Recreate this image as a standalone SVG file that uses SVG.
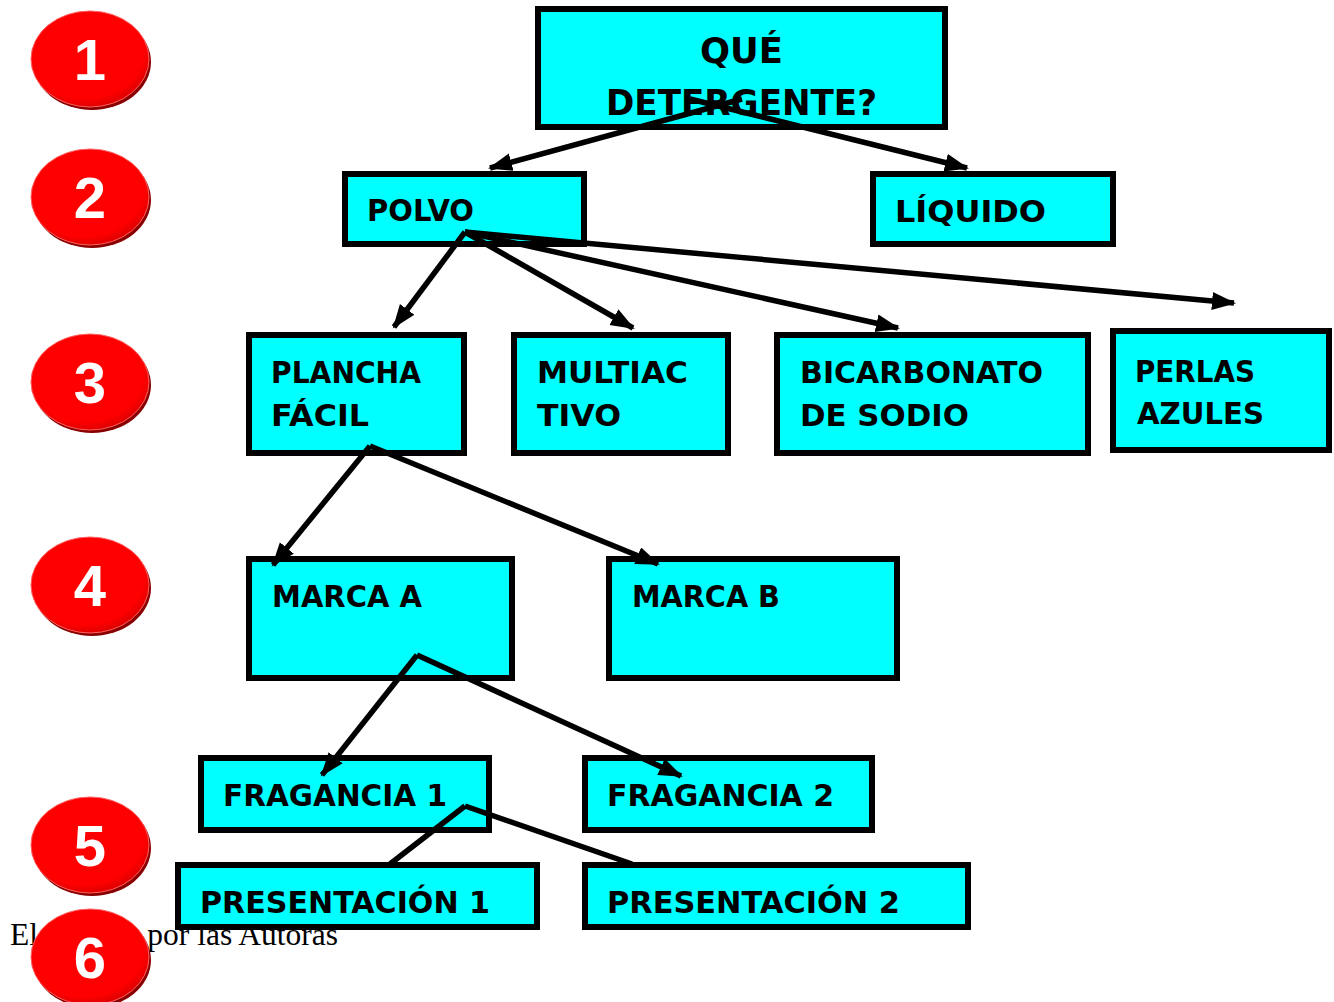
<svg xmlns="http://www.w3.org/2000/svg" width="1334" height="1002" viewBox="0 0 1334 1002">
<style>
.box{fill:#00ffff;stroke:#000;stroke-width:6}
.t{font-family:"Comic Sans MS","DejaVu Sans",sans-serif;font-weight:bold;font-size:30px;fill:#000}
.tq{font-family:"Comic Sans MS","DejaVu Sans",sans-serif;font-weight:bold;font-size:35px;fill:#000}
.num{font-family:"Liberation Sans",Arial,sans-serif;font-weight:bold;font-size:58px;fill:#fff;text-anchor:middle}
.c{stroke:#000;stroke-width:5.5;fill:none}
.foot{font-family:"Liberation Serif","Times New Roman",serif;font-size:31.5px;fill:#000}
</style>
<defs>
<marker id="ah" markerUnits="userSpaceOnUse" markerWidth="26" markerHeight="20" refX="22" refY="9" orient="auto">
<path d="M0,0 L24,9 L0,18 Z" fill="#000"/>
</marker>
<radialGradient id="rg" cx="0.45" cy="0.4" r="0.6">
<stop offset="0" stop-color="#ff0000"/>
<stop offset="0.85" stop-color="#ff0000"/>
<stop offset="1" stop-color="#e00000"/>
</radialGradient>
</defs>

<text class="foot" x="10" y="945">Elaborado por las Autoras</text>

<g id="levels">
<g id="level1"><ellipse cx="92" cy="62" rx="59" ry="48" fill="#8a0000"/><ellipse cx="90" cy="59" rx="59" ry="48" fill="url(#rg)" stroke="#ff6060" stroke-width="1"/><text class="num" x="90" y="80">1</text></g>
<g id="level2"><ellipse cx="92" cy="200" rx="59" ry="48" fill="#8a0000"/><ellipse cx="90" cy="197" rx="59" ry="48" fill="url(#rg)" stroke="#ff6060" stroke-width="1"/><text class="num" x="90" y="218">2</text></g>
<g id="level3"><ellipse cx="92" cy="385" rx="59" ry="48" fill="#8a0000"/><ellipse cx="90" cy="382" rx="59" ry="48" fill="url(#rg)" stroke="#ff6060" stroke-width="1"/><text class="num" x="90" y="403">3</text></g>
<g id="level4"><ellipse cx="92" cy="588" rx="59" ry="48" fill="#8a0000"/><ellipse cx="90" cy="585" rx="59" ry="48" fill="url(#rg)" stroke="#ff6060" stroke-width="1"/><text class="num" x="90" y="606">4</text></g>
<g id="level5"><ellipse cx="92" cy="848" rx="59" ry="48" fill="#8a0000"/><ellipse cx="90" cy="845" rx="59" ry="48" fill="url(#rg)" stroke="#ff6060" stroke-width="1"/><text class="num" x="90" y="866">5</text></g>
<g id="level6"><ellipse cx="92" cy="960" rx="59" ry="48" fill="#8a0000"/><ellipse cx="90" cy="957" rx="59" ry="48" fill="url(#rg)" stroke="#ff6060" stroke-width="1"/><text class="num" x="90" y="978">6</text></g>
</g>

<g id="n-que"><rect class="box" x="538" y="9" width="407" height="118"/><text class="tq" x="700" y="63" textLength="83" lengthAdjust="spacingAndGlyphs">QUÉ</text><text class="tq" x="606" y="115" textLength="271" lengthAdjust="spacingAndGlyphs">DETERGENTE?</text></g>
<g id="n-polvo"><rect class="box" x="345" y="174" width="239" height="70"/><text class="t" x="367" y="221" textLength="107" lengthAdjust="spacingAndGlyphs">POLVO</text></g>
<g id="n-liquido"><rect class="box" x="873" y="174" width="240" height="70"/><text class="t" x="895" y="222" textLength="151" lengthAdjust="spacingAndGlyphs">LÍQUIDO</text></g>
<g id="n-plancha"><rect class="box" x="249" y="335" width="215" height="118"/><text class="t" x="271" y="383" textLength="150" lengthAdjust="spacingAndGlyphs">PLANCHA</text><text class="t" x="271" y="426" textLength="98" lengthAdjust="spacingAndGlyphs">FÁCIL</text></g>
<g id="n-multiac"><rect class="box" x="514" y="335" width="214" height="118"/><text class="t" x="537" y="383" textLength="151" lengthAdjust="spacingAndGlyphs">MULTIAC</text><text class="t" x="537" y="426" textLength="84" lengthAdjust="spacingAndGlyphs">TIVO</text></g>
<g id="n-bicarbonato"><rect class="box" x="777" y="335" width="311" height="118"/><text class="t" x="800" y="383" textLength="243" lengthAdjust="spacingAndGlyphs">BICARBONATO</text><text class="t" x="800" y="426" textLength="169" lengthAdjust="spacingAndGlyphs">DE SODIO</text></g>
<g id="n-perlas"><rect class="box" x="1113" y="331" width="216" height="119"/><text class="t" x="1135" y="382" textLength="120" lengthAdjust="spacingAndGlyphs">PERLAS</text><text class="t" x="1137" y="424" textLength="127" lengthAdjust="spacingAndGlyphs">AZULES</text></g>
<g id="n-marcaA"><rect class="box" x="249" y="559" width="263" height="119"/><text class="t" x="272" y="607" textLength="150" lengthAdjust="spacingAndGlyphs">MARCA  A</text></g>
<g id="n-marcaB"><rect class="box" x="609" y="559" width="288" height="119"/><text class="t" x="632" y="607" textLength="148" lengthAdjust="spacingAndGlyphs">MARCA  B</text></g>
<g id="n-frag1"><rect class="box" x="201" y="758" width="288" height="72"/><text class="t" x="223" y="806" textLength="224" lengthAdjust="spacingAndGlyphs">FRAGANCIA 1</text></g>
<g id="n-frag2"><rect class="box" x="585" y="758" width="287" height="72"/><text class="t" x="607" y="806" textLength="227" lengthAdjust="spacingAndGlyphs">FRAGANCIA 2</text></g>
<g id="n-pres1"><rect class="box" x="178" y="865" width="359" height="62"/><text class="t" x="200" y="913" textLength="290" lengthAdjust="spacingAndGlyphs">PRESENTACIÓN 1</text></g>
<g id="n-pres2"><rect class="box" x="585" y="865" width="383" height="62"/><text class="t" x="607" y="913" textLength="293" lengthAdjust="spacingAndGlyphs">PRESENTACIÓN 2</text></g>

<g id="connectors">
<line class="c" x1="742" y1="99" x2="490" y2="168" marker-end="url(#ah)"/>
<line class="c" x1="690" y1="99" x2="967" y2="168" marker-end="url(#ah)"/>
<line class="c" x1="465" y1="232" x2="394" y2="327" marker-end="url(#ah)"/>
<line class="c" x1="465" y1="232" x2="633" y2="328" marker-end="url(#ah)"/>
<line class="c" x1="465" y1="232" x2="898" y2="328" marker-end="url(#ah)"/>
<line class="c" x1="465" y1="232" x2="1234" y2="303" marker-end="url(#ah)"/>
<line class="c" x1="370" y1="446" x2="273" y2="565" marker-end="url(#ah)"/>
<line class="c" x1="370" y1="446" x2="658" y2="564" marker-end="url(#ah)"/>
<line class="c" x1="417" y1="655" x2="322" y2="775" marker-end="url(#ah)"/>
<line class="c" x1="417" y1="655" x2="681" y2="776" marker-end="url(#ah)"/>
<line class="c" x1="465" y1="806" x2="390" y2="864"/>
<line class="c" x1="465" y1="806" x2="632" y2="864"/>
</g>
</svg>
